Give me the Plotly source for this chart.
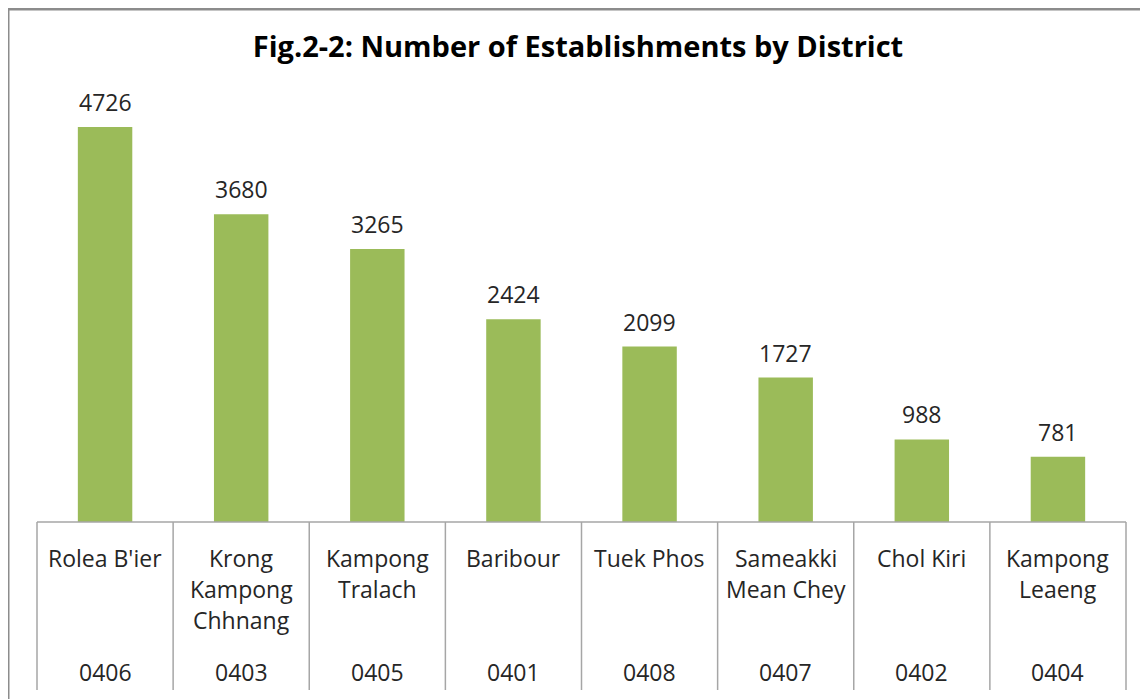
import plotly.graph_objects as go

districts = ["Rolea B'ier", "Krong<br>Kampong<br>Chhnang", "Kampong<br>Tralach", "Baribour",
             "Tuek Phos", "Sameakki<br>Mean Chey", "Chol Kiri", "Kampong<br>Leaeng"]
codes = ["0406", "0403", "0405", "0401", "0408", "0407", "0402", "0404"]
establishments = [4726, 3680, 3265, 2424, 2099, 1727, 988, 781]

OFF = 8                   # page body margin offset
W, H = 1148 - OFF, 699 - OFF
L, R = 37 - OFF, 1126 - OFF   # plot area pixel edges (figure coords)
T, B = 104 - OFF, 522 - OFF   # plot area top / baseline
FONT = "Open Sans"
TXT = "#262626"

def px_x(p):
    return (p - OFF - L) / (R - L)

def px_y(p):
    return (B - (p - OFF)) / (B - T)

n = len(districts)
xs = list(range(n))

fig = go.Figure(go.Bar(
    x=xs, y=establishments, width=0.4,
    marker=dict(color="#9BBB59", line=dict(width=0)),
    hoverinfo="skip",
))

ann = []
for i, v in enumerate(establishments):
    ann.append(dict(x=i, y=v, xref="x", yref="y", text=str(v), showarrow=False,
                    yanchor="bottom", yshift=7,
                    font=dict(family=FONT, size=23, color=TXT)))
for i, name in enumerate(districts):
    for k, line in enumerate(name.split("<br>")):
        ann.append(dict(x=i, y=px_y(558 + 31 * k), xref="x", yref="paper", text=line,
                        showarrow=False, yanchor="middle",
                        font=dict(family=FONT, size=23, color=TXT)))
    ann.append(dict(x=i, y=px_y(672), xref="x", yref="paper", text=codes[i],
                    showarrow=False, yanchor="middle",
                    font=dict(family=FONT, size=23, color=TXT)))

shapes = []
# table grid
shapes.append(dict(type="line", xref="paper", yref="paper", x0=0, x1=1, y0=0, y1=0,
                   line=dict(color="#A6A6A6", width=1.5)))
for i in range(n + 1):
    shapes.append(dict(type="line", xref="paper", yref="paper", x0=i / n, x1=i / n,
                       y0=0, y1=px_y(690), line=dict(color="#A6A6A6", width=1.5)))
# outer chart border (top and left visible)
shapes.append(dict(type="line", xref="paper", yref="paper", x0=px_x(8), x1=px_x(1160),
                   y0=px_y(9), y1=px_y(9), line=dict(color="#8C8C8C", width=3)))
shapes.append(dict(type="line", xref="paper", yref="paper", x0=px_x(8), x1=px_x(8),
                   y0=px_y(9), y1=px_y(710), line=dict(color="#8C8C8C", width=3)))

fig.update_layout(
    width=W, height=H,
    margin=dict(l=L, r=W - R, t=T, b=H - B, pad=0),
    paper_bgcolor="white", plot_bgcolor="white",
    showlegend=False,
    title=dict(text="<b>Fig.2-2: Number of Establishments by District</b>",
               x=px_x(578), xref="paper", xanchor="center", y=1 - (47 - OFF) / H,
               yanchor="middle",
               font=dict(family=FONT, size=29, color="#000000")),
    xaxis=dict(range=[-0.5, n - 0.5], showticklabels=False, showgrid=False,
               zeroline=False, showline=False, ticks=""),
    yaxis=dict(range=[0, 5000], visible=False, showgrid=False, zeroline=False),
    annotations=ann, shapes=shapes,
)

fig.write_html("out.html")
